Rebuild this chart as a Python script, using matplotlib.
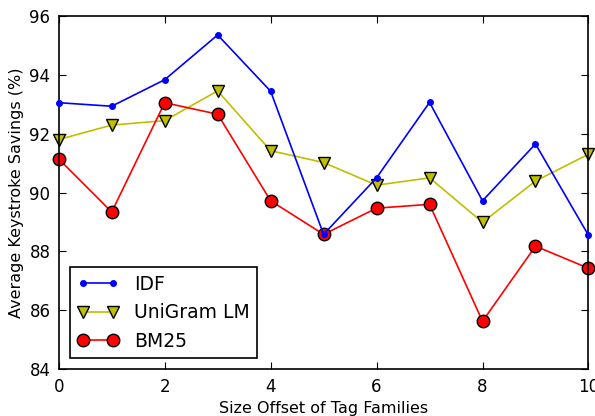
import matplotlib
matplotlib.use("Agg")
import matplotlib.pyplot as plt

offsets = [0, 1, 2, 3, 4, 5, 6, 7, 8, 9, 10]
idf = [93.05, 92.93, 93.83, 95.35, 93.44, 88.58, 90.50, 93.06, 89.72, 91.65, 88.55]
unigram = [91.80, 92.29, 92.44, 93.45, 91.42, 91.02, 90.25, 90.50, 88.99, 90.39, 91.30]
bm25 = [91.14, 89.34, 93.05, 92.66, 89.72, 88.58, 89.47, 89.60, 85.63, 88.18, 87.43]

plt.rcParams["font.family"] = "DejaVu Sans"

fig = plt.figure(figsize=(5.95, 4.16), dpi=100)
ax = fig.add_axes([0.0987, 0.1123, 0.8903, 0.8497])

ax.plot(offsets, idf, color="b", marker="o", markersize=4, markeredgecolor="b",
        lw=1.2, label="IDF", clip_on=False, zorder=3)
ax.plot(offsets, unigram, color="y", marker="v", markersize=9, markeredgecolor="k",
        lw=1.2, label="UniGram LM", clip_on=False, zorder=2)
ax.plot(offsets, bm25, color="r", marker="o", markersize=9, markeredgecolor="k",
        lw=1.2, label="BM25", clip_on=False, zorder=2)

ax.set_xlim(0, 10)
ax.set_ylim(84, 96)
ax.set_xticks(range(0, 11, 2))
ax.set_yticks(range(84, 97, 2))
ax.tick_params(direction="in", top=True, right=True, length=5, labelsize=12, pad=6)
for s in ax.spines.values():
    s.set_linewidth(1.2)

ax.set_xlabel("Size Offset of Tag Families", fontsize=11.5)
ax.set_ylabel("Average Keystroke Savings (%)", fontsize=11.5)

leg = ax.legend(loc="lower left", numpoints=2, fontsize=13.5, fancybox=False,
                edgecolor="k", framealpha=1, borderaxespad=0.6, handlelength=2.2)
leg.get_frame().set_linewidth(1.2)

fig.savefig("out.png", dpi=100)
